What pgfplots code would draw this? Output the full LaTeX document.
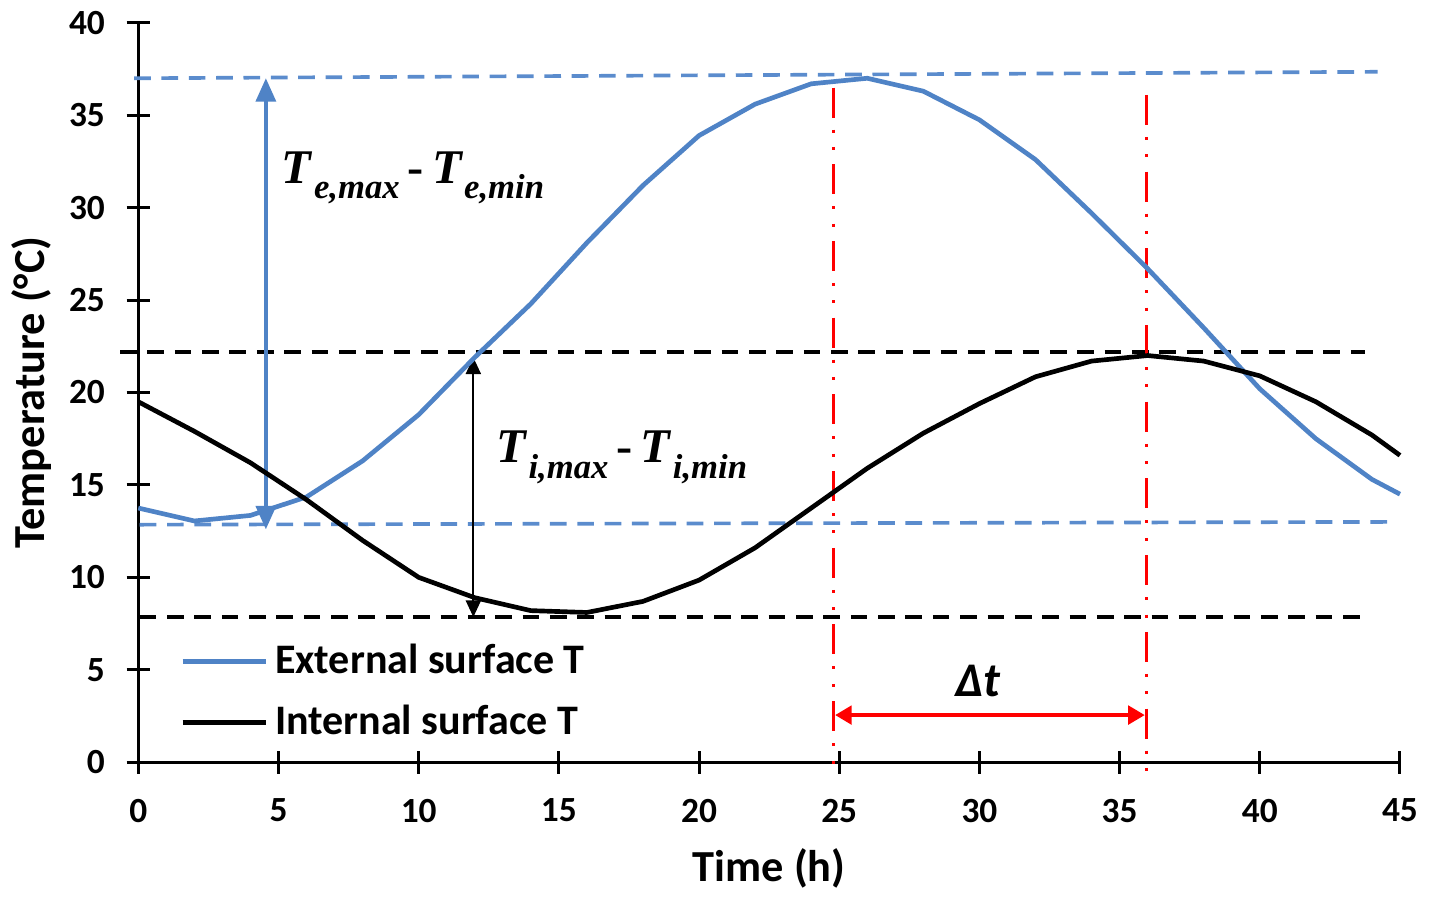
\documentclass[border=0pt]{standalone}
\usepackage{fontspec}
\setmainfont{Carlito}
\newfontfamily\labelserif{Liberation Serif}
\usepackage{pgfplots}
\usepackage{pgfplotstable}
\pgfplotsset{compat=1.18}
\usetikzlibrary{arrows.meta}

\definecolor{extblue}{RGB}{79,131,198}
\definecolor{dashblue}{RGB}{91,140,205}
\definecolor{lagred}{RGB}{255,0,0}

% Surface temperatures (hourly simulation, every 2 h)
\pgfplotstableread{
t   T
0   13.75
2   13.05
4   13.35
6   14.35
8   16.3
10  18.8
12  21.9
14  24.8
16  28.1
18  31.2
20  33.9
22  35.6
24  36.7
26  37.0
28  36.3
30  34.75
32  32.6
34  29.7
36  26.7
38  23.5
40  20.2
42  17.5
44  15.3
45  14.5
}\external

\pgfplotstableread{
t   T
0   19.5
2   17.9
4   16.2
6   14.2
8   12.0
10  10.0
12  8.9
14  8.2
16  8.1
18  8.7
20  9.85
22  11.6
24  13.75
26  15.9
28  17.8
30  19.4
32  20.85
34  21.7
36  22.0
38  21.7
40  20.9
42  19.5
44  17.7
45  16.6
}\internal

\newcommand{\Tsub}[2]{\textit{T}\kern0.3pt\raisebox{-0.32em}{\fontsize{10.4}{12}\selectfont\textit{#1,#2}}}

\begin{document}
\begin{tikzpicture}
\begin{axis}[
  scale only axis,
  width=378.3pt, height=221.7pt,
  xmin=0, xmax=45, ymin=0, ymax=40,
  xtick={0,5,...,45}, ytick={0,5,...,40},
  axis x line*=bottom, axis y line*=left,
  axis line style={line width=0.9pt, black},
  tick align=center, major tick length=7pt,
  tick style={line width=0.9pt, black},
  /pgf/number format/assume math mode=true,
  ticklabel style={font=\fontsize{10.6}{12}\selectfont\bfseries},
  xticklabel style={yshift=-4pt},
  yticklabel style={xshift=-3pt},
  xlabel={Time (h)}, ylabel={Temperature (°C)},
  label style={font=\fontsize{13.3}{15}\selectfont\bfseries},
  x label style={at={(axis description cs:0.5,-0.144)}, anchor=center},
  y label style={at={(axis description cs:-0.085,0.5)}, anchor=center},
  clip=false,
  legend cell align=left,
  legend style={at={(axis cs:1.5,3.8)}, anchor=west, draw=none, fill=none,
    font=\fontsize{12.6}{14}\selectfont\bfseries, row sep=4pt,
    inner sep=0pt, outer sep=0pt},
  legend image code/.code={\draw[#1] (0pt,0pt) -- (25pt,0pt);},
]
% amplitude reference lines
\addplot[dashblue, line width=1.1pt, dash pattern=on 5pt off 3.2pt, forget plot]
  coordinates {(-0.15,37.0) (44.2,37.35)};
\addplot[dashblue, line width=1.1pt, dash pattern=on 5pt off 3.2pt, forget plot]
  coordinates {(0.05,12.85) (44.6,13.0)};
\addplot[black, line width=1.1pt, dash pattern=on 5pt off 3.2pt, forget plot]
  coordinates {(-0.65,22.2) (43.75,22.2)};
\addplot[black, line width=1.1pt, dash pattern=on 5pt off 3.2pt, forget plot]
  coordinates {(0.05,7.85) (43.9,7.85)};

% time lag markers
\addplot[lagred, line width=0.9pt, forget plot,
  dash pattern=on 9pt off 3.6pt on 0.9pt off 4.3pt on 0.9pt off 4.3pt]
  coordinates {(24.8,36.5) (24.8,-0.6)};
\addplot[lagred, line width=0.9pt, forget plot,
  dash pattern=on 9pt off 3.6pt on 0.9pt off 4.3pt on 0.9pt off 4.3pt]
  coordinates {(35.95,36.1) (35.95,-0.6)};
\addplot[lagred, line width=1.3pt, forget plot,
  {Triangle[width=5.5pt,length=5pt]}-{Triangle[width=5.5pt,length=5pt]}]
  coordinates {(24.85,2.55) (35.9,2.55)};

% amplitude arrows
\addplot[extblue, line width=1pt, forget plot,
  {Triangle[width=6pt,length=7pt]}-{Triangle[width=6pt,length=7pt]}]
  coordinates {(4.55,12.6) (4.55,37.0)};
\addplot[black, line width=0.6pt, forget plot,
  {Triangle[width=4.5pt,length=5pt]}-{Triangle[width=4.5pt,length=5pt]}]
  coordinates {(11.95,7.85) (11.95,21.9)};

% surface temperature curves
\addplot[extblue, line width=1.4pt] table[x=t, y=T] {\external};
\addlegendentry{External surface T}
\addplot[black, line width=1.4pt] table[x=t, y=T] {\internal};
\addlegendentry{Internal surface T}

% annotations
\node[font=\labelserif\fontsize{14.5}{17}\selectfont\bfseries, anchor=west, inner sep=0pt]
  at (axis cs:5.1,31.6) {\Tsub{e}{max}\,\textbf{-}\,\Tsub{e}{min}};
\node[font=\labelserif\fontsize{14.5}{17}\selectfont\bfseries, anchor=west, inner sep=0pt]
  at (axis cs:12.75,16.5) {\Tsub{i}{max}\,\textbf{-}\,\Tsub{i}{min}};
\node[font=\fontsize{14.5}{16}\selectfont\bfseries\itshape, inner sep=0pt]
  at (axis cs:29.95,4.4) {Δt};
\end{axis}
\end{tikzpicture}
\end{document}
